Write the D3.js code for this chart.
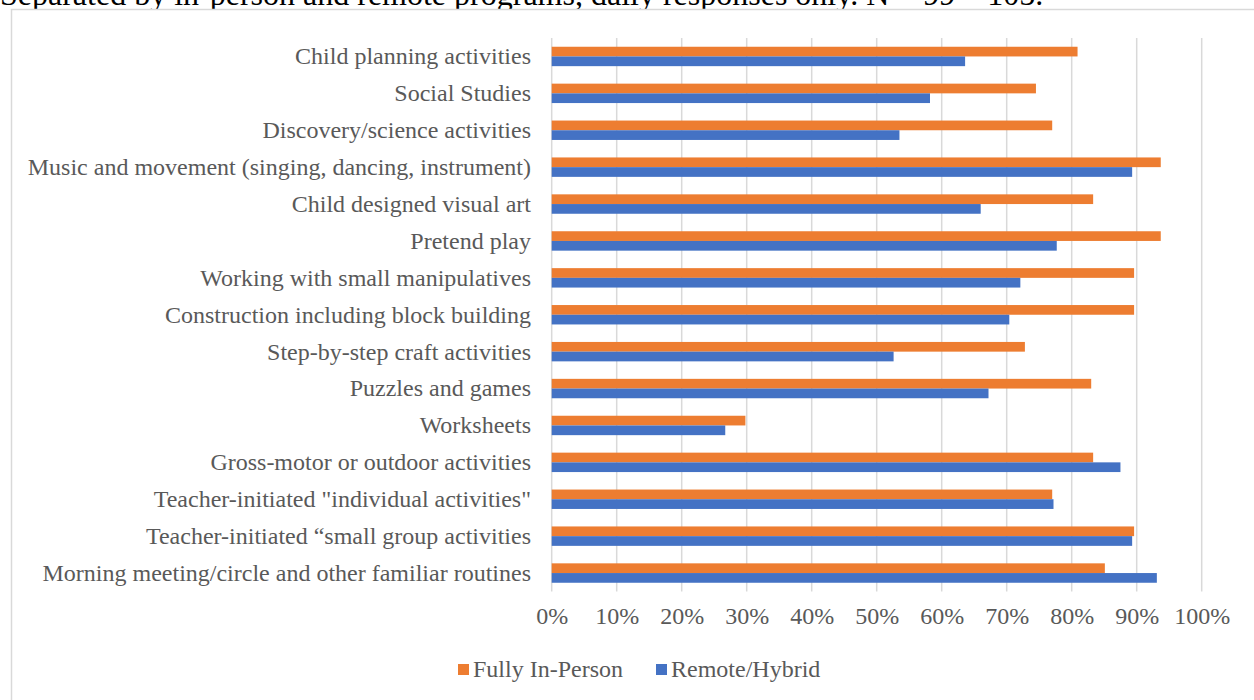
<!DOCTYPE html>
<html>
<head>
<meta charset="utf-8">
<script src="https://cdn.jsdelivr.net/npm/d3@7/dist/d3.min.js"></script>
<style>
  html, body { margin: 0; padding: 0; background: #fff; overflow: hidden; }
  svg { display: block; }
  text { font-family: "Liberation Serif", "Times New Roman", serif; }
</style>
</head>
<body>
<svg id="chart" width="1254" height="700"></svg>
<script>
// Share of programs doing each activity daily, by program format
const categories = [
  "Child planning activities",
  "Social Studies",
  "Discovery/science activities",
  "Music and movement (singing, dancing, instrument)",
  "Child designed visual art",
  "Pretend play",
  "Working with small manipulatives",
  "Construction including block building",
  "Step-by-step craft activities",
  "Puzzles and games",
  "Worksheets",
  "Gross-motor or outdoor activities",
  "Teacher-initiated \"individual activities\"",
  "Teacher-initiated \u201csmall group activities",
  "Morning meeting/circle and other familiar routines"
];
const fullyInPerson = [80.9, 74.5, 77.0, 93.7, 83.3, 93.7, 89.6, 89.6, 72.8, 83.0, 29.8, 83.3, 77.0, 89.6, 85.1];
const remoteHybrid  = [63.6, 58.2, 53.5, 89.3, 66.0, 77.7, 72.1, 70.4, 52.6, 67.2, 26.7, 87.5, 77.2, 89.3, 93.1];
const seriesNames = ["Fully In-Person", "Remote/Hybrid"];
const tickValues = [0, 10, 20, 30, 40, 50, 60, 70, 80, 90, 100];
const caption = "Separated by in-person and remote programs, daily responses only. N = 99 \u2013 105.";

const colors = { "Fully In-Person": "#ED7D31", "Remote/Hybrid": "#4472C4" };
const textColor = "#595959";
const gridColor = "#d9d9d9";
const fontSize = 24;

const svg = d3.select("#chart");

// caption line above the chart frame (runs off the page top)
svg.append("text")
  .attr("x", 0).attr("y", 4.5)
  .attr("font-size", 32)
  .attr("fill", "#000")
  .text(caption);

// chart frame
svg.append("rect")
  .attr("x", 11.5).attr("y", 9.5)
  .attr("width", 1400).attr("height", 800)
  .attr("fill", "#fff")
  .attr("stroke", gridColor).attr("stroke-width", 1.5);

const x = d3.scaleLinear().domain([0, 100]).range([551.7, 1201.7]);
const y = d3.scaleBand().domain(categories).range([38, 591.5])
  .paddingInner(0.474).paddingOuter(0.237);
const ySub = d3.scaleBand().domain(seriesNames).range([0, y.bandwidth()]);

// vertical gridlines
svg.append("g").selectAll("line")
  .data(tickValues).join("line")
  .attr("x1", d => x(d)).attr("x2", d => x(d))
  .attr("y1", 38).attr("y2", 591.5)
  .attr("stroke", gridColor).attr("stroke-width", 1.5);

// bars
const rows = categories.map((c, i) => ({
  category: c,
  values: [
    { series: "Fully In-Person", value: fullyInPerson[i] },
    { series: "Remote/Hybrid", value: remoteHybrid[i] }
  ]
}));

const groups = svg.append("g").selectAll("g")
  .data(rows).join("g")
  .attr("transform", d => `translate(0,${y(d.category)})`);

groups.selectAll("rect")
  .data(d => d.values).join("rect")
  .attr("x", x(0))
  .attr("y", d => ySub(d.series))
  .attr("width", d => x(d.value) - x(0))
  .attr("height", ySub.bandwidth())
  .attr("fill", d => colors[d.series]);

// category labels
svg.append("g").selectAll("text")
  .data(categories).join("text")
  .attr("x", 531)
  .attr("y", d => y(d) + y.bandwidth() / 2)
  .attr("dy", "0.33em")
  .attr("text-anchor", "end")
  .attr("font-size", fontSize)
  .attr("fill", textColor)
  .text(d => d);

// value axis
const xAxis = d3.axisBottom(x)
  .tickValues(tickValues)
  .tickFormat(d => d + "%")
  .tickSize(0)
  .tickPadding(0);

const axisG = svg.append("g")
  .attr("transform", "translate(0,607)")
  .call(xAxis);
axisG.select(".domain").remove();
axisG.selectAll("text")
  .attr("font-family", "Liberation Serif, Times New Roman, serif")
  .attr("font-size", fontSize)
  .attr("fill", textColor);

// legend
const legendItems = [
  { name: "Fully In-Person", x: 458 },
  { name: "Remote/Hybrid", x: 656 }
];
const legend = svg.append("g").selectAll("g")
  .data(legendItems).join("g")
  .attr("transform", d => `translate(${d.x},664)`);
legend.append("rect")
  .attr("width", 11).attr("height", 11)
  .attr("fill", d => colors[d.name]);
legend.append("text")
  .attr("x", 15).attr("y", 5.5)
  .attr("dy", "0.33em")
  .attr("font-size", fontSize)
  .attr("fill", textColor)
  .text(d => d.name);
</script>
</body>
</html>
